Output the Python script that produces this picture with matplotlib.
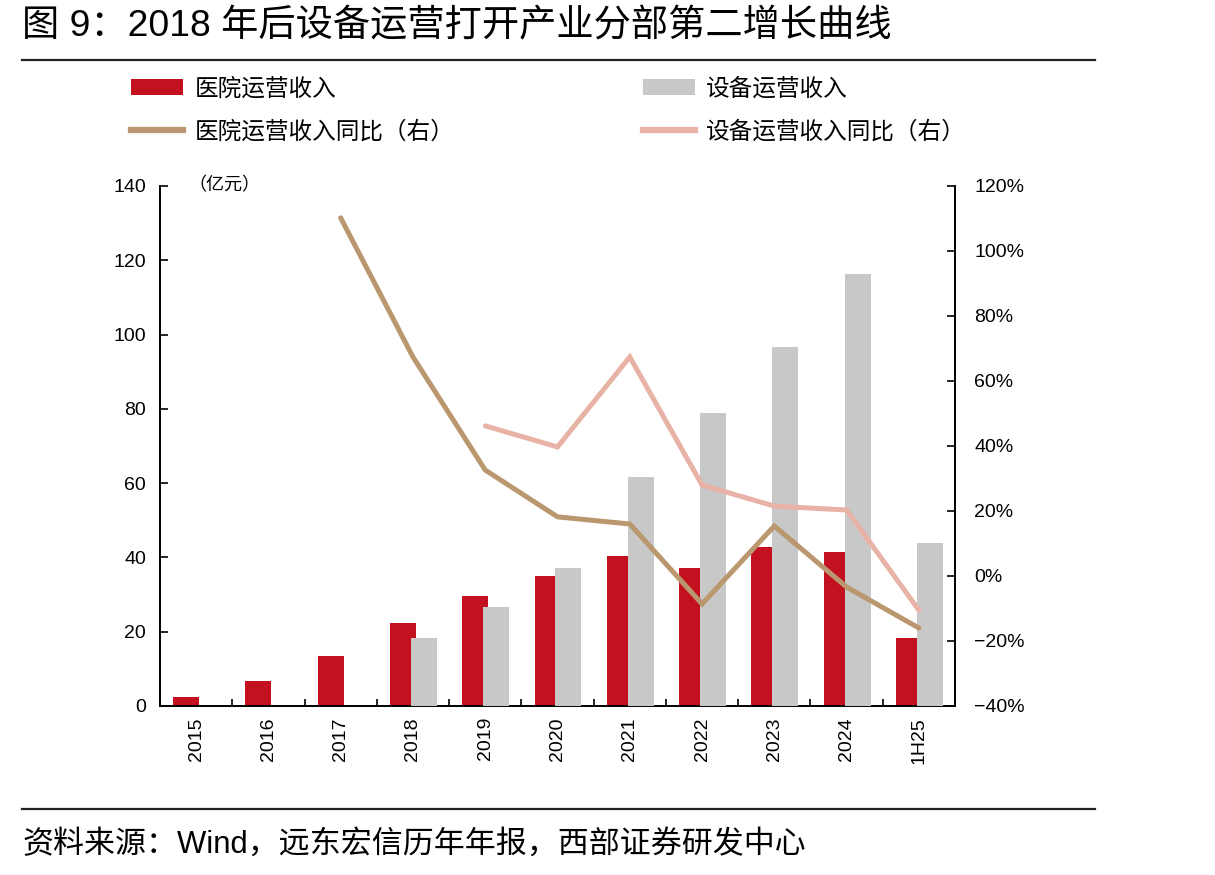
import matplotlib
matplotlib.use("Agg")
import matplotlib.pyplot as plt
import numpy as np
from matplotlib.lines import Line2D
from matplotlib.patches import Patch
from matplotlib.ticker import FixedLocator, PercentFormatter

plt.rcParams['font.family'] = ['Liberation Sans', 'Noto Sans CJK SC', 'DejaVu Sans']

categories = ['2015', '2016', '2017', '2018', '2019', '2020', '2021', '2022', '2023', '2024', '1H25']
hospital_rev = [2.4, 6.7, 13.5, 22.3, 29.6, 35.0, 40.4, 37.2, 42.8, 41.5, 18.3]
equipment_rev = [np.nan, np.nan, np.nan, 18.3, 26.7, 37.2, 61.7, 78.9, 96.7, 116.3, 43.9]
hospital_yoy = [np.nan, np.nan, 110.2, 67.4, 32.6, 18.2, 16.0, -8.6, 15.4, -3.4, -16.0]
equipment_yoy = [np.nan, np.nan, np.nan, np.nan, 46.2, 39.7, 67.4, 28.0, 21.5, 20.3, -10.5]

left_ticks = [0, 20, 40, 60, 80, 100, 120, 140]
right_ticks = [-40, -20, 0, 20, 40, 60, 80, 100, 120]

RED = '#C3111F'
GRAY = '#C8C8C8'
BROWN = '#BA976F'
PINK = '#E8B2A6'

W, H = 1215, 875
fig = plt.figure(figsize=(W / 100, H / 100), dpi=100)
ax = fig.add_axes([160 / W, 1 - 706 / H, (955 - 160) / W, (706 - 186) / H])
ax2 = ax.twinx()

x = np.arange(len(categories))
bw = 0.36
ax.bar(x - 0.138, hospital_rev, width=bw, color=RED, zorder=2)
ax.bar(x + 0.152, equipment_rev, width=bw, color=GRAY, zorder=3)

ax2.plot(x, hospital_yoy, color=BROWN, lw=3.6, solid_capstyle='round', solid_joinstyle='miter', zorder=4)
ax2.plot(x, equipment_yoy, color=PINK, lw=3.6, solid_capstyle='round', solid_joinstyle='miter', zorder=4)

ax.set_xlim(-0.5, len(categories) - 0.5)
ax.set_ylim(0, 140)
ax2.set_ylim(-40, 120)
ax.set_yticks(left_ticks)
ax2.set_yticks(right_ticks)
ax2.yaxis.set_major_formatter(PercentFormatter(decimals=0))

ax.set_xticks(x)
ax.set_xticklabels(categories, rotation=90, fontsize=14)
ax.xaxis.set_minor_locator(FixedLocator(np.arange(0.5, len(categories) - 0.5, 1)))
ax.tick_params(axis='x', which='major', length=0, pad=8)
ax.tick_params(axis='x', which='minor', direction='in', length=5, width=1.2)
ax.tick_params(axis='y', direction='in', length=6, width=1.2, labelsize=14, pad=10)
ax2.tick_params(axis='y', direction='in', length=6, width=1.2, labelsize=14, pad=14)

for a in (ax, ax2):
    a.spines['top'].set_visible(False)
    for s in ('left', 'right', 'bottom'):
        a.spines[s].set_linewidth(1.4)
ax.spines['right'].set_visible(False)
ax2.spines['left'].set_visible(False)
ax2.spines['bottom'].set_visible(False)
ax.set_zorder(1)
ax2.set_zorder(2)
ax2.patch.set_visible(False)

# unit label
fig.text(188 / W, 1 - 185 / H, '（亿元）', fontsize=13, va='center', ha='left',
         family=['Noto Sans CJK SC'])

# title
fig.text(22 / W, 1 - 27 / H, '图 9：2018 年后设备运营打开产业分部第二增长曲线', fontsize=26.8,
         va='center', ha='left')
# rules
fig.add_artist(Line2D([22 / W, 1095 / W], [1 - 60 / H, 1 - 60 / H], color='#222222', lw=1.6))
fig.add_artist(Line2D([22 / W, 1095 / W], [1 - 809 / H, 1 - 809 / H], color='#222222', lw=1.6))
# source
fig.text(22 / W, 1 - 845 / H, '资料来源：Wind，远东宏信历年年报，西部证券研发中心', fontsize=22.3,
         va='center', ha='left')

handles = [Patch(facecolor=RED, edgecolor='none'),
           Line2D([], [], color=BROWN, lw=4.5),
           Patch(facecolor=GRAY, edgecolor='none'),
           Line2D([], [], color=PINK, lw=4.5)]
labels = ['医院运营收入', '医院运营收入同比（右）', '设备运营收入', '设备运营收入同比（右）']
fig.legend(handles, labels, ncol=2, loc='upper left', bbox_to_anchor=(110 / W, 1 - 56 / H),
           frameon=False, handlelength=2.2, handleheight=0.7, handletextpad=0.5,
           columnspacing=7.95, labelspacing=0.85, prop={'family': ['Noto Sans CJK SC'], 'size': 17})

fig.savefig('out.png', dpi=100)
